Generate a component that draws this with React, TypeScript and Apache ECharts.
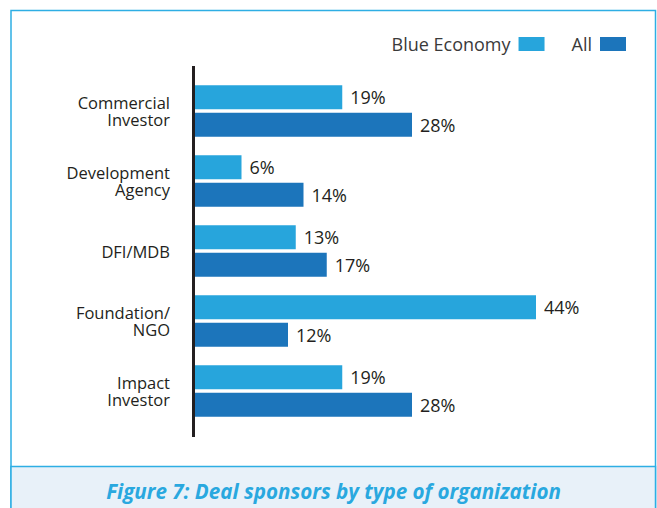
import React, { useEffect, useRef } from "react";
import * as echarts from "echarts";

const categories = [
  "Commercial\nInvestor",
  "Development\nAgency",
  "DFI/MDB",
  "Foundation/\nNGO",
  "Impact\nInvestor",
];
const blueEconomy = [19, 6, 13, 44, 19];
const allDeals = [28, 14, 17, 12, 28];
const seriesNames = ["Blue Economy", "All"];
const caption = "Figure 7: Deal sponsors by type of organization";

const FONT = "'Open Sans', 'Noto Sans', sans-serif";
const TEXT = "#231f20";
const LIGHT = "#27a5dc";
const DARK = "#1c75bb";
const BORDER = "#2eaee4";

export default function App() {
  const ref = useRef<HTMLDivElement>(null);
  useEffect(() => {
    if (!ref.current) return;
    const chart = echarts.init(ref.current, null, { renderer: "svg" });
    const gridLeft = 195;
    const gridTop = 76;
    const gridHeight = 350;
    chart.setOption({
      animation: false,
      backgroundColor: "#ffffff",
      textStyle: { fontFamily: FONT },
      legend: {
        data: seriesNames,
        right: 26,
        top: 28,
        align: "right",
        icon: "rect",
        itemWidth: 26,
        itemHeight: 14,
        itemGap: 27,
        textStyle: {
          fontFamily: FONT,
          fontSize: 18,
          lineHeight: 22,
          color: "#3a3a3a",
          padding: [0, 3, 0, 0],
        },
      },
      grid: {
        left: gridLeft,
        top: gridTop,
        width: 387.5,
        height: gridHeight,
        containLabel: false,
      },
      xAxis: {
        type: "value",
        min: 0,
        max: 50,
        show: false,
      },
      yAxis: {
        type: "category",
        data: categories,
        inverse: true,
        axisLine: { show: false },
        axisTick: { show: false },
        axisLabel: {
          margin: 25,
          fontFamily: FONT,
          fontSize: 16.5,
          lineHeight: 17.5,
          color: TEXT,
          align: "right",
        },
      },
      series: [
        {
          name: seriesNames[0],
          type: "bar",
          data: blueEconomy,
          barWidth: 24,
          barGap: "15%",
          itemStyle: { color: LIGHT },
          label: {
            show: true,
            position: "right",
            distance: 8,
            formatter: "{c}%",
            fontFamily: FONT,
            fontSize: 18,
            color: TEXT,
          },
        },
        {
          name: seriesNames[1],
          type: "bar",
          data: allDeals,
          barWidth: 24,
          barGap: "15%",
          itemStyle: { color: DARK },
          label: {
            show: true,
            position: "right",
            distance: 8,
            formatter: "{c}%",
            fontFamily: FONT,
            fontSize: 18,
            color: TEXT,
          },
        },
      ],
      graphic: [
        {
          type: "rect",
          z: -1,
          shape: { x: 11, y: 10.5, width: 644.5, height: 520 },
          style: { fill: "none", stroke: BORDER, lineWidth: 1.5 },
        },
        {
          type: "rect",
          shape: { x: 11, y: 466.5, width: 644.5, height: 60 },
          style: { fill: "#e8f1f9", stroke: BORDER, lineWidth: 1.5 },
        },
        {
          type: "text",
          x: 333.5,
          y: 491,
          style: {
            text: caption,
            align: "center",
            verticalAlign: "middle",
            fontFamily: FONT,
            fontStyle: "italic",
            fontWeight: "bold",
            fontSize: 20.6,
            fill: "#29a8df",
          },
        },
        {
          type: "line",
          shape: { x1: gridLeft - 1.5, y1: 66, x2: gridLeft - 1.5, y2: 437 },
          style: { stroke: TEXT, lineWidth: 3 },
        },
      ],
    });
    return () => chart.dispose();
  }, []);
  return (
    <div
      ref={ref}
      style={{ position: "absolute", left: 0, top: 0, width: 657, height: 508 }}
    />
  );
}
